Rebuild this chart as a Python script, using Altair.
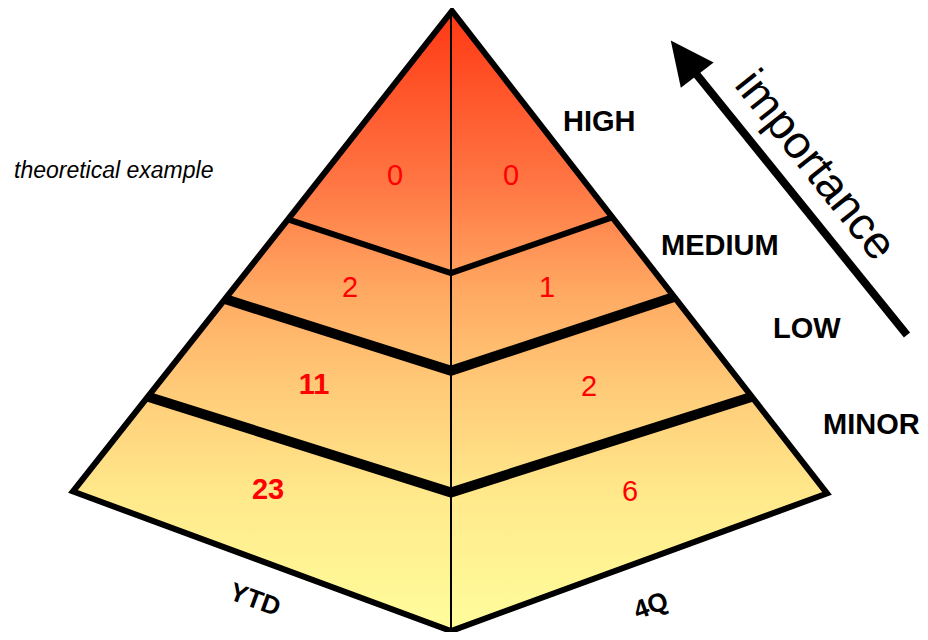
import altair as alt
import pandas as pd

# ---------------- data (reference pixel geometry + values) ----------------
# pyramid silhouette (x, top edge y, bottom edge y)
area_x = [73, 451, 827]
area_top = [495, 13, 497]
area_bottom = [495, 635, 497]

# outline path (starts mid-edge so every corner is a join)
outline_x = [288, 452, 827, 451, 73, 288]
outline_y = [222, 13, 497, 635, 495, 222]

# centre ridge
ridge_x = [451, 451]
ridge_y = [13, 635]

# band boundaries: left edge, ridge, right edge
bound_names = ["HIGH/MEDIUM", "MEDIUM/LOW", "LOW/MINOR"]
bound_x = [[288, 451, 612], [225, 451, 674], [148, 451, 752]]
bound_y = [[222, 276, 220], [302, 374, 300], [400, 496, 400]]
bound_w = [6, 10, 10]

# importance levels
levels = ["HIGH", "MEDIUM", "LOW", "MINOR"]
level_x = [563, 661, 773, 823]
level_y = [133, 258, 341, 437]

# counts per level
ytd_counts = ["0", "2", "11", "23"]
ytd_x = [395, 350, 314, 268]
ytd_y = [179, 291, 388, 494]
q4_counts = ["0", "1", "2", "6"]
q4_x = [511, 547, 589, 630]
q4_y = [179, 291, 390, 496]

# face labels
face_labels = ["YTD", "4Q"]
face_x = [255, 651]
face_y = [604, 610]
face_angle = [20, 340]

# arrow
arrow_tail = (907, 338)
arrow_end = (692, 71)
arrow_head = (684, 60)

# ---------------- scales ----------------
xs = alt.Scale(domain=[8, 920], nice=False, zero=False)
ys = alt.Scale(domain=[10, 636], nice=False, zero=False, reverse=True)


def X(f="x"):
    return alt.X(f"{f}:Q", scale=xs, axis=None)


def Y(f="y"):
    return alt.Y(f"{f}:Q", scale=ys, axis=None)


grad = alt.Gradient(
    gradient="linear",
    stops=[
        alt.GradientStop(color="#FF3814", offset=0.0),
        alt.GradientStop(color="#FF7442", offset=0.27),
        alt.GradientStop(color="#FFA862", offset=0.45),
        alt.GradientStop(color="#FFCB78", offset=0.61),
        alt.GradientStop(color="#FFEA8C", offset=0.79),
        alt.GradientStop(color="#FFFD9C", offset=1.0),
    ],
    x1=0, x2=0, y1=0, y2=1,
)

area_df = pd.DataFrame({"x": area_x, "y": area_top, "y2": area_bottom})
fill = alt.Chart(area_df).mark_area(fill=grad, strokeWidth=0, interpolate="linear").encode(
    x=X(), y=Y(), y2="y2:Q"
)

ridge_df = pd.DataFrame({"x": ridge_x, "y": ridge_y, "o": [0, 1]})
ridge = alt.Chart(ridge_df).mark_line(color="black", strokeWidth=2).encode(
    x=X(), y=Y(), order="o:Q"
)

rows = []
for n, xs_, ys_, w in zip(bound_names, bound_x, bound_y, bound_w):
    for i, (a, b) in enumerate(zip(xs_, ys_)):
        rows.append({"name": n, "x": a, "y": b, "o": i, "w": w})
bound_df = pd.DataFrame(rows)
bounds = alt.Chart(bound_df).mark_line(color="black", strokeJoin="miter", strokeCap="butt").encode(
    x=X(), y=Y(), detail="name:N", order="o:Q",
    strokeWidth=alt.StrokeWidth("w:Q", scale=None, legend=None),
)

outline_df = pd.DataFrame({"x": outline_x, "y": outline_y, "o": list(range(len(outline_x)))})
outline = alt.Chart(outline_df).mark_line(
    color="black", strokeWidth=6, strokeJoin="miter", strokeMiterLimit=10
).encode(x=X(), y=Y(), order="o:Q")

count_df = pd.DataFrame({
    "t": ytd_counts + q4_counts,
    "x": ytd_x + q4_x,
    "y": ytd_y + q4_y,
})
counts_single = alt.Chart(count_df).transform_filter(
    "length(datum.t) < 2"
).mark_text(
    color="#FF0000", font="Liberation Sans", fontSize=29, align="center", baseline="middle"
).encode(x=X(), y=Y(), text="t:N")
counts_double = alt.Chart(count_df).transform_filter(
    "length(datum.t) >= 2"
).mark_text(
    color="#FF0000", font="Liberation Sans", fontSize=29, fontWeight="bold",
    align="center", baseline="middle"
).encode(x=X(), y=Y(), text="t:N")

level_df = pd.DataFrame({"t": levels, "x": level_x, "y": level_y})
level_txt = alt.Chart(level_df).mark_text(
    color="black", font="Liberation Sans", fontSize=29, fontWeight="bold",
    align="left", baseline="alphabetic"
).encode(x=X(), y=Y(), text="t:N")

face_layers = []
for t, fx, fy, ang in zip(face_labels, face_x, face_y, face_angle):
    d = pd.DataFrame({"t": [t], "x": [fx], "y": [fy]})
    face_layers.append(
        alt.Chart(d).mark_text(
            color="black", font="Liberation Sans", fontSize=26, fontWeight="bold",
            align="center", baseline="middle", angle=ang
        ).encode(x=X(), y=Y(), text="t:N")
    )

note_df = pd.DataFrame({"t": ["theoretical example"], "x": [14], "y": [181]})
note = alt.Chart(note_df).mark_text(
    color="black", font="Liberation Sans", fontSize=23, fontStyle="italic",
    align="left", baseline="alphabetic"
).encode(x=X(), y=Y(), text="t:N")

imp_df = pd.DataFrame({"t": ["importance"], "x": [815], "y": [168]})
imp = alt.Chart(imp_df).mark_text(
    color="black", font="Liberation Sans", fontSize=46,
    align="center", baseline="middle", angle=51.5
).encode(x=X(), y=Y(), text="t:N")

shaft_df = pd.DataFrame({"x": [arrow_tail[0]], "y": [arrow_tail[1]],
                         "x2": [arrow_end[0]], "y2": [arrow_end[1]]})
shaft = alt.Chart(shaft_df).mark_rule(color="black", strokeWidth=8, strokeCap="butt").encode(
    x=X(), y=Y(), x2="x2:Q", y2="y2:Q"
)

head_df = pd.DataFrame({"x": [arrow_head[0]], "y": [arrow_head[1]]})
head = alt.Chart(head_df).mark_point(
    shape="M0,-1L0.95,1L-0.95,1Z", size=1892, filled=True, color="black",
    opacity=1, strokeWidth=0, angle=322.5
).encode(x=X(), y=Y())

chart = alt.layer(
    fill, ridge, bounds, outline, counts_single, counts_double, level_txt,
    *face_layers, note, imp, shaft, head
).properties(
    width=912, height=624, padding=0, autosize=alt.AutoSizeParams(type="none")
).configure_view(stroke=None)

chart.save("out.html", embed_options={"renderer": "svg", "actions": False})
